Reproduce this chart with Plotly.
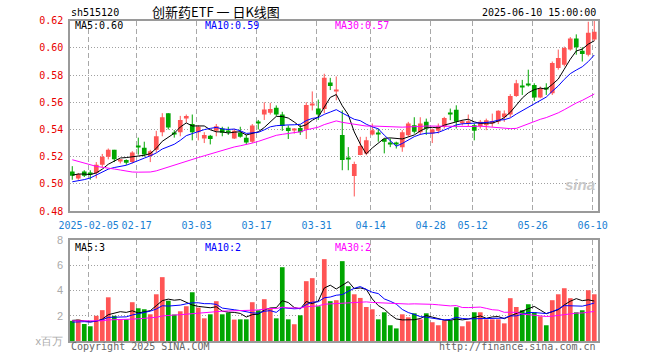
import plotly.graph_objects as go
import pandas as pd

# ---------------- data ----------------
dates = [
    "2025-01-23", "2025-01-24", "2025-01-27",
    "2025-02-05", "2025-02-06", "2025-02-07", "2025-02-10", "2025-02-11", "2025-02-12", "2025-02-13",
    "2025-02-14", "2025-02-17", "2025-02-18", "2025-02-19", "2025-02-20", "2025-02-21", "2025-02-24",
    "2025-02-25", "2025-02-26", "2025-02-27", "2025-02-28",
    "2025-03-03", "2025-03-04", "2025-03-05", "2025-03-06", "2025-03-07", "2025-03-10", "2025-03-11",
    "2025-03-12", "2025-03-13", "2025-03-14", "2025-03-17", "2025-03-18", "2025-03-19", "2025-03-20",
    "2025-03-21", "2025-03-24", "2025-03-25", "2025-03-26", "2025-03-27", "2025-03-28", "2025-03-31",
    "2025-04-01", "2025-04-02", "2025-04-03", "2025-04-07", "2025-04-08", "2025-04-09", "2025-04-10",
    "2025-04-11", "2025-04-14", "2025-04-15", "2025-04-16", "2025-04-17", "2025-04-18", "2025-04-21",
    "2025-04-22", "2025-04-23", "2025-04-24", "2025-04-25", "2025-04-28", "2025-04-29", "2025-04-30",
    "2025-05-06", "2025-05-07", "2025-05-08", "2025-05-09", "2025-05-12", "2025-05-13", "2025-05-14",
    "2025-05-15", "2025-05-16", "2025-05-19", "2025-05-20", "2025-05-21", "2025-05-22", "2025-05-23",
    "2025-05-26", "2025-05-27", "2025-05-28", "2025-05-29", "2025-05-30",
    "2025-06-03", "2025-06-04", "2025-06-05", "2025-06-06", "2025-06-09", "2025-06-10",
]

open_ = [
    0.509, 0.504, 0.509, 0.508, 0.508, 0.514, 0.520, 0.525, 0.517, 0.5175,
    0.516, 0.528, 0.5265, 0.5205, 0.525, 0.538, 0.552, 0.5375, 0.538, 0.548,
    0.544, 0.538, 0.5334, 0.5354, 0.539, 0.5407, 0.539, 0.5334, 0.5375, 0.534,
    0.531, 0.5452, 0.551, 0.5523, 0.556, 0.551, 0.5412, 0.5395, 0.541, 0.540,
    0.558, 0.5555, 0.555, 0.5745, 0.568, 0.536, 0.5185, 0.5058, 0.5212, 0.5224,
    0.5363, 0.5375, 0.533, 0.5298, 0.530, 0.527, 0.5358, 0.5432, 0.538, 0.5456,
    0.537, 0.539, 0.542, 0.5518, 0.5546, 0.5445, 0.5445, 0.5432, 0.5424, 0.5432,
    0.545, 0.5456, 0.549, 0.551, 0.5647, 0.5718, 0.5735, 0.5728, 0.5635, 0.5706,
    0.5667, 0.5852, 0.5877, 0.5988, 0.6069, 0.598, 0.595, 0.6062,
]
high = [
    0.513, 0.508, 0.510, 0.510, 0.516, 0.522, 0.526, 0.525, 0.518, 0.518,
    0.524, 0.534, 0.531, 0.525, 0.539, 0.552, 0.552, 0.5395, 0.550, 0.551,
    0.551, 0.543, 0.538, 0.536, 0.544, 0.542, 0.542, 0.5405, 0.542, 0.536,
    0.544, 0.547, 0.560, 0.5596, 0.5577, 0.553, 0.543, 0.541, 0.5435, 0.560,
    0.568, 0.562, 0.581, 0.578, 0.579, 0.554, 0.527, 0.5163, 0.5346, 0.5346,
    0.5444, 0.5407, 0.5334, 0.5334, 0.531, 0.5395, 0.5456, 0.549, 0.549, 0.548,
    0.5407, 0.5444, 0.5493, 0.5554, 0.5578, 0.547, 0.551, 0.5444, 0.547, 0.548,
    0.5517, 0.5541, 0.554, 0.566, 0.5765, 0.5765, 0.584, 0.574, 0.5716, 0.574,
    0.590, 0.5988, 0.601, 0.608, 0.610, 0.6005, 0.6193, 0.6198,
]
low = [
    0.503, 0.503, 0.505, 0.503, 0.504, 0.512, 0.518, 0.516, 0.515, 0.514,
    0.515, 0.5215, 0.520, 0.516, 0.523, 0.535, 0.540, 0.534, 0.535, 0.545,
    0.532, 0.532, 0.530, 0.529, 0.535, 0.535, 0.536, 0.533, 0.534, 0.529,
    0.530, 0.540, 0.547, 0.551, 0.550, 0.539, 0.533, 0.537, 0.536, 0.533,
    0.554, 0.547, 0.552, 0.569, 0.5615, 0.510, 0.510, 0.4907, 0.521, 0.521,
    0.5356, 0.531, 0.5224, 0.527, 0.526, 0.5236, 0.5345, 0.537, 0.536, 0.536,
    0.530, 0.537, 0.5407, 0.5468, 0.5407, 0.543, 0.542, 0.532, 0.5407, 0.5395,
    0.542, 0.544, 0.5456, 0.549, 0.564, 0.5654, 0.5716, 0.561, 0.563, 0.5654,
    0.5654, 0.584, 0.5864, 0.598, 0.595, 0.590, 0.5938, 0.605,
]
close = [
    0.506, 0.507, 0.506, 0.507, 0.514, 0.520, 0.525, 0.518, 0.518, 0.5156,
    0.523, 0.527, 0.5215, 0.524, 0.535, 0.549, 0.5415, 0.5365, 0.547, 0.550,
    0.538, 0.542, 0.536, 0.533, 0.5424, 0.5376, 0.538, 0.539, 0.5346, 0.5305,
    0.543, 0.5445, 0.5547, 0.555, 0.551, 0.5425, 0.5388, 0.540, 0.538, 0.558,
    0.559, 0.551, 0.578, 0.572, 0.5686, 0.5176, 0.518, 0.5146, 0.5278, 0.532,
    0.5395, 0.537, 0.531, 0.5296, 0.5295, 0.538, 0.5444, 0.5383, 0.5444, 0.5407,
    0.540, 0.5424, 0.5485, 0.5515, 0.5456, 0.546, 0.546, 0.539, 0.5456, 0.5468,
    0.546, 0.5537, 0.5517, 0.5647, 0.574, 0.5715, 0.573, 0.5635, 0.5704, 0.570,
    0.5889, 0.5926, 0.600, 0.6069, 0.6005, 0.5956, 0.6111, 0.612,
]
volume = [
    1.6, 1.7, 1.35, 1.17, 2.0, 2.45, 3.47, 2.0, 1.72, 1.72,
    3.08, 2.6, 2.52, 2.12, 3.71, 5.07, 3.2, 2.1, 2.36, 2.76,
    3.87, 2.65, 1.8, 2.12, 3.16, 2.12, 2.25, 1.7, 1.72, 1.72,
    3.08, 2.44, 3.32, 2.57, 1.8, 5.86, 1.72, 1.33, 2.04, 4.75,
    4.99, 2.76, 6.5, 3.16, 3.24, 6.34, 4.35, 3.71, 3.42, 2.7,
    2.52, 1.72, 2.28, 1.25, 1.0, 2.12, 1.88, 2.2, 1.72, 2.2,
    1.49, 1.25, 1.64, 1.64, 2.68, 1.17, 1.56, 2.28, 2.28, 1.72,
    1.72, 1.72, 1.4, 3.4, 2.7, 2.44, 2.92, 2.28, 1.96, 1.25,
    3.24, 3.71, 4.19, 3.4, 2.28, 2.44, 4.03, 3.71,
]
# earlier sessions (off-chart), estimated from where the moving averages start
history_close = [
    0.548, 0.545, 0.542, 0.546, 0.540, 0.538, 0.543, 0.540, 0.537, 0.546,
    0.530, 0.524, 0.518, 0.510, 0.505, 0.502, 0.500, 0.504, 0.501, 0.498,
    0.500, 0.497, 0.495, 0.494, 0.497, 0.503, 0.506, 0.509, 0.508,
]
history_volume = [
    1.8, 1.5, 1.7, 1.9, 1.6, 1.4, 1.8, 1.7, 1.5, 1.6,
    1.9, 1.7, 1.5, 1.6, 1.8, 1.4, 1.7, 1.6, 1.5, 1.8,
    1.3, 1.4, 1.5, 1.3, 1.3, 1.6, 1.7, 1.5, 1.8,
]

tick_dates = ["2025-02-05", "2025-02-17", "2025-03-03", "2025-03-17", "2025-03-31",
              "2025-04-14", "2025-04-28", "2025-05-12", "2025-05-26", "2025-06-10"]
tick_labels = ["2025-02-05", "02-17", "03-03", "03-17", "03-31",
               "04-14", "04-28", "05-12", "05-26", "06-10"]
price_ticks = [0.48, 0.50, 0.52, 0.54, 0.56, 0.58, 0.60, 0.62]
vol_ticks = [0, 2, 4, 6, 8]
vol_tick_labels = ["x百万", "2", "4", "6", "8"]
price_legend = ["MA5:0.60", "MA10:0.59", "MA30:0.57"]
volume_legend = ["MA5:3", "MA10:2", "MA30:2"]

# ---------------- styling ----------------
W, H = 660, 360
RED = "#ff5555"
GREEN = "#00a600"
MONO = "DejaVu Sans Mono"
MA_COLORS = ["#000000", "#0000ff", "#ff00ff"]

n = len(dates)
idx = list(range(n))

cs = pd.Series(history_close + close)
vs = pd.Series(history_volume + volume)
ma_p = [cs.rolling(k).mean().iloc[-n:].tolist() for k in (5, 10, 30)]
ma_v = [vs.rolling(k).mean().iloc[-n:].tolist() for k in (5, 10, 30)]

up = [c >= o for o, c in zip(open_, close)]
colors = [RED if u else GREEN for u in up]
base = [min(o, c) for o, c in zip(open_, close)]
body = [max(abs(c - o), 0.0008) for o, c in zip(open_, close)]

fig = go.Figure()

# wicks
for flag, col in ((True, RED), (False, GREEN)):
    wx, wy = [], []
    for i in idx:
        if up[i] == flag:
            wx += [i, i, None]
            wy += [low[i], high[i], None]
    fig.add_trace(go.Scatter(x=wx, y=wy, mode="lines", line=dict(color=col, width=1),
                             xaxis="x", yaxis="y", hoverinfo="skip"))

# bodies
fig.add_trace(go.Bar(x=idx, y=body, base=base, width=0.78, marker=dict(color=colors, line=dict(width=0)),
                     xaxis="x", yaxis="y"))

for ma, col in zip(ma_p, MA_COLORS):
    fig.add_trace(go.Scatter(x=idx, y=ma, mode="lines", line=dict(color=col, width=1),
                             xaxis="x", yaxis="y"))

# volume
fig.add_trace(go.Bar(x=idx, y=volume, width=0.78, marker=dict(color=colors, line=dict(width=0)),
                     xaxis="x2", yaxis="y2"))
for ma, col in zip(ma_v, MA_COLORS):
    fig.add_trace(go.Scatter(x=idx, y=ma, mode="lines", line=dict(color=col, width=1),
                             xaxis="x2", yaxis="y2"))

tickpos = [dates.index(d) - 0.27 for d in tick_dates]
xdom = [70 / W, 598 / W]
xrange_ = [-0.38, n - 0.38]

common_x = dict(domain=xdom, range=xrange_, tickvals=tickpos, showgrid=True, automargin=False,
                gridcolor="#a8a8a8", griddash="5px,3px", gridwidth=1, zeroline=False,
                showline=True, linecolor="#9a9a9a", linewidth=1.5, mirror=True, ticks="",
                tickangle=0)
common_y = dict(showgrid=True, gridcolor="#a0a0a0", griddash="1px,2px", zeroline=False,
                showline=True, linecolor="#9a9a9a", linewidth=1.5, mirror=True, ticks="",
                ticklabelstandoff=3, automargin=False, ticklabeloverflow="allow")

fig.update_layout(
    width=W, height=H, margin=dict(l=0, r=0, t=0, b=0, autoexpand=False),
    paper_bgcolor="white", plot_bgcolor="white", showlegend=False, barmode="overlay",
    xaxis=dict(**common_x, anchor="y", ticktext=tick_labels, ticklabelstandoff=4,
               tickfont=dict(family=MONO, size=10, color="#1a7fd4")),
    xaxis2=dict(**common_x, anchor="y2", showticklabels=False),
    yaxis=dict(**common_y, domain=[(H - 211) / H, (H - 20.5) / H], range=[0.48, 0.6202],
               tickvals=price_ticks, ticktext=[f"{v:.2f}" for v in price_ticks],
               tickfont=dict(family=MONO, size=10, color="#e80000")),
    yaxis2=dict(**common_y, domain=[(H - 341) / H, (H - 240) / H], range=[0, 8.02],
                tickvals=vol_ticks, ticktext=vol_tick_labels,
                tickfont=dict(family="Liberation Sans", size=11, color="#aaaaaa")),
)


def txt(s, px, py, color="#000000", anchor="left", size=10, family=MONO, **kw):
    fig.add_annotation(text=s, x=px / W, y=1 - py / H, xref="paper", yref="paper",
                       xanchor=anchor, yanchor="middle", showarrow=False,
                       font=dict(family=family, size=size, color=color), **kw)


txt("sh515120", 69, 13)
txt("创新药ETF 一 日K线图", 216.5, 12, anchor="center", size=13, family="Noto Sans CJK SC")
txt("2025-06-10 15:00:00", 598, 13, anchor="right")
for s, px, col in zip(price_legend, (73, 203, 333), MA_COLORS):
    txt(s, px, 26, color=col)
for s, px, col in zip(volume_legend, (73, 203, 333), MA_COLORS):
    txt(s, px, 247, color=col)
txt("Copyright 2025 SINA.COM", 69, 346, color="#666666")
txt("http://finance.sina.com.cn", 598, 346, color="#666666", anchor="right")
txt("<b><i>sina</i></b>", 597, 184, color="#c8c8c8", anchor="right", size=15, family="Liberation Sans")

fig.write_html("out.html", config={"displayModeBar": False},
               post_script="document.body.style.margin='0';document.body.style.padding='0';")
